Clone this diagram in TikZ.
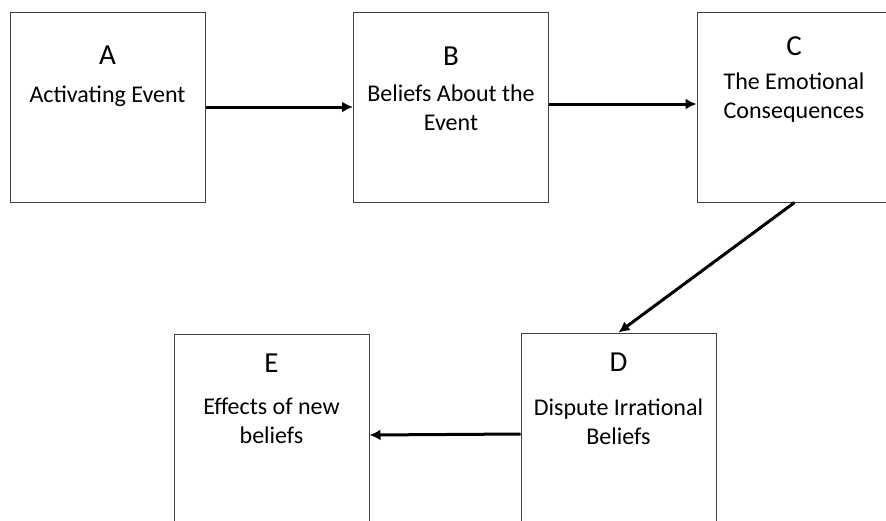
\documentclass[tikz,border=0pt]{standalone}
\usepackage{fontspec}
\setmainfont{Carlito}
\usetikzlibrary{arrows.meta}

\begin{document}
\begin{tikzpicture}[x=1pt,y=-1pt,
	stage/.style={draw=black!75, line width=1pt, minimum width=195pt, minimum height=190pt, inner sep=0pt},
	letter/.style={anchor=base, font=\fontsize{29}{32}\selectfont},
	caption/.style={anchor=base, align=center, font=\fontsize{24}{29}\selectfont},
	arr/.style={-{Latex[length=11pt,width=11pt]}, line width=3pt}]
	\clip (0,0) rectangle (886,520);

	\node[stage] (A) at (107.5,107) {};
	\node[stage] (B) at (451,107) {};
	\node[stage] (C) at (794.5,107) {};
	\node[stage] (D) at (618.5,428) {};
	\node[stage] (E) at (271.5,429) {};

	% the base of a two-line caption is its last line
	\node[letter] (Aletter) at (107.5,64) {A};
	\node[caption] (Atext) at (107.5,102) {Activating Event};

	\node[letter] (Bletter) at (451,65) {B};
	\node[caption] (Btext) at (451,130) {Beliefs About the\\Event};

	\node[letter] (Cletter) at (794,55) {C};
	\node[caption] (Ctext) at (794,118) {The Emotional\\Consequences};

	\node[letter] (Dletter) at (618.5,371) {D};
	\node[caption] (Dtext) at (618.5,444) {Dispute Irrational\\Beliefs};

	\node[letter] (Eletter) at (271.5,372) {E};
	\node[caption] (Etext) at (271.5,443) {Effects of new\\beliefs};

	\draw[arr] (A.east) -- (B.west);
	\draw[arr] ([yshift=3pt]B.east) -- ([yshift=3pt]C.west);
	\draw[arr] (C.south) -- (D.north);
	\draw[arr] ([yshift=-6pt]D.west) -- ([yshift=-6pt]E.east);
\end{tikzpicture}
\end{document}
